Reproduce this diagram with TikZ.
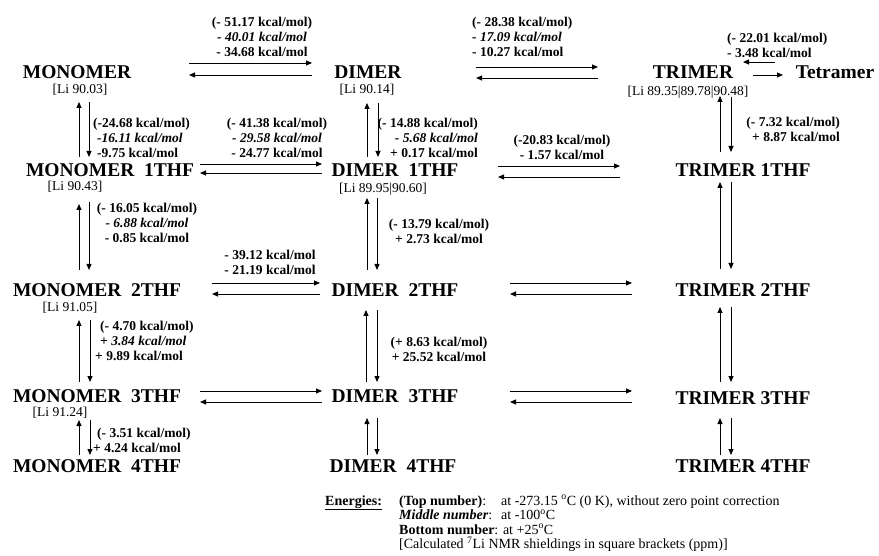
\documentclass[tikz,border=0pt]{standalone}
\usepackage{fontspec}
\setmainfont{Liberation Serif}
\usetikzlibrary{calc, arrows.meta}

\begin{document}
\begin{tikzpicture}[x=1pt, y=-1pt,
  species/.style={font=\fontsize{19.5}{22}\selectfont\bfseries, inner sep=0pt},
  shield/.style={font=\fontsize{13.5}{15}\selectfont, inner sep=0pt},
  dE/.style={font=\fontsize{13.5}{15}\selectfont\bfseries, inner sep=0pt, align=center},
  legend/.style={font=\fontsize{14}{15}\selectfont, inner sep=0pt, anchor=base west},
  eq/.style={-{Triangle[length=6pt,width=5pt]}, line width=0.9pt}]
\useasboundingbox (0,0) rectangle (879,556);

% species
\node (m0) [species] at (77,72) {MONOMER};
\node (m1) [species] at (110,170) {MONOMER\hspace{0.5em}1THF};
\node (m2) [species] at (97,290) {MONOMER\hspace{0.5em}2THF};
\node (m3) [species] at (97,396) {MONOMER\hspace{0.5em}3THF};
\node (m4) [species] at (97,466) {MONOMER\hspace{0.5em}4THF};
\node (d0) [species] at (368,72) {DIMER};
\node (d1) [species] at (395,170) {DIMER\hspace{0.5em}1THF};
\node (d2) [species] at (395,290) {DIMER\hspace{0.5em}2THF};
\node (d3) [species] at (395,396) {DIMER\hspace{0.5em}3THF};
\node (d4) [species] at (393,466) {DIMER\hspace{0.5em}4THF};
\node (t0) [species] at (693,72) {TRIMER};
\node (tt) [species] at (835,72) {Tetramer};
\node (t1) [species] at (743,170) {TRIMER 1THF};
\node (t2) [species] at (743,290) {TRIMER 2THF};
\node (t3) [species] at (743,398) {TRIMER 3THF};
\node (t4) [species] at (743,466) {TRIMER 4THF};

% Li shieldings
\node (m0li) [shield] at (80,90) {[Li 90.03]};
\node (d0li) [shield] at (367,90) {[Li 90.14]};
\node (t0li) [shield] at (688,92) {[Li 89.35|89.78|90.48]};
\node (m1li) [shield] at (75,187) {[Li 90.43]};
\node (d1li) [shield] at (383,189) {[Li 89.95|90.60]};
\node (m2li) [shield] at (70,308) {[Li 91.05]};
\node (m3li) [shield] at (60,413) {[Li 91.24]};

% energies
\node (e1) [dE] at (262,37) {(- 51.17 kcal/mol)\\\textit{- 40.01 kcal/mol}\\- 34.68 kcal/mol};
\node (e2) [dE, align=left, anchor=west] at (472,37) {(- 28.38 kcal/mol)\\\textit{- 17.09 kcal/mol}\\- 10.27 kcal/mol};
\node (e3) [dE, align=left, anchor=west] at (727,45.5) {(- 22.01 kcal/mol)\\- 3.48 kcal/mol};
\node (e4) [dE, align=left, anchor=west] at (93,138) {(-24.68 kcal/mol)\\\hspace*{4pt}\textit{-16.11 kcal/mol}\\\hspace*{4pt}-9.75 kcal/mol};
\node (e5) [dE] at (277,138) {(- 41.38 kcal/mol)\\\textit{- 29.58 kcal/mol}\\- 24.77 kcal/mol};
\node (e6) [dE, align=right, anchor=east] at (478,138) {(- 14.88 kcal/mol)\\\textit{- 5.68 kcal/mol}\\+ 0.17 kcal/mol};
\node (e7) [dE] at (562,147) {(-20.83 kcal/mol)\\- 1.57 kcal/mol};
\node (e8) [dE, align=right, anchor=east] at (840,129.5) {(- 7.32 kcal/mol)\\+ 8.87 kcal/mol};
\node (e9) [dE] at (147,223) {(- 16.05 kcal/mol)\\\textit{- 6.88 kcal/mol}\\- 0.85 kcal/mol};
\node (e10) [dE] at (439,231) {(- 13.79 kcal/mol)\\+ 2.73 kcal/mol};
\node (e11) [dE] at (270,262) {- 39.12 kcal/mol\\- 21.19 kcal/mol};
\node (e12) [dE, align=left, anchor=west] at (95,341) {\hspace*{5pt}(- 4.70 kcal/mol)\\\hspace*{5pt}\textit{+ 3.84 kcal/mol}\\+ 9.89 kcal/mol};
\node (e13) [dE] at (439,349.5) {(+ 8.63 kcal/mol)\\+ 25.52 kcal/mol};
\node (e14) [dE, align=left, anchor=west] at (93,440) {\hspace*{4pt}(- 3.51 kcal/mol)\\+ 4.24 kcal/mol};

% horizontal equilibria
\draw [eq] ($(m0)+(112,-9)$) -- ($(d0)+(-56,-9)$);
\draw [eq] ($(d0)+(-56,3)$) -- ($(m0)+(112,3)$);
\draw [eq] ($(d0)+(108,-5)$) -- ($(t0)+(-95,-5)$);
\draw [eq] ($(t0)+(-95,6)$) -- ($(d0)+(108,6)$);
\draw [eq] ($(tt)+(-60,-10)$) -- ($(t0)+(50,-10)$);
\draw [eq] ($(t0)+(60,3)$) -- ($(tt)+(-52,3)$);
\draw [eq] ($(m1)+(90,-6)$) -- ($(d1)+(-73,-6)$);
\draw [eq] ($(d1)+(-73,3)$) -- ($(m1)+(90,3)$);
\draw [eq] ($(d1)+(103,-4)$) -- ($(t1)+(-123,-4)$);
\draw [eq] ($(t1)+(-123,7)$) -- ($(d1)+(103,7)$);
\draw [eq] ($(m2)+(115,-7)$) -- ($(d2)+(-75,-7)$);
\draw [eq] ($(d2)+(-75,4)$) -- ($(m2)+(115,4)$);
\draw [eq] ($(d2)+(115,-7)$) -- ($(t2)+(-111,-7)$);
\draw [eq] ($(t2)+(-111,4)$) -- ($(d2)+(115,4)$);
\draw [eq] ($(m3)+(103,-5)$) -- ($(d3)+(-73,-5)$);
\draw [eq] ($(d3)+(-73,6)$) -- ($(m3)+(103,6)$);
\draw [eq] ($(d3)+(115,-5)$) -- ($(t3)+(-111,-7)$);
\draw [eq] ($(t3)+(-111,4)$) -- ($(d3)+(115,6)$);

% vertical equilibria
\draw [eq] ($(m1)+(-31,-13)$) -- ($(m0li)+(-1,12)$);
\draw [eq] ($(m0li)+(9,12)$) -- ($(m1)+(-21,-13)$);
\draw [eq] ($(m2)+(-18,-20)$) -- ($(m1li)+(4,17)$);
\draw [eq] ($(m1li)+(14,15)$) -- ($(m2)+(-8,-20)$);
\draw [eq] ($(m3)+(-18,-14)$) -- ($(m2li)+(9,12)$);
\draw [eq] ($(m2li)+(20,12)$) -- ($(m3)+(-7,-14)$);
\draw [eq] ($(m4)+(-18,-11)$) -- ($(m3li)+(19,7)$);
\draw [eq] ($(m3li)+(30,7)$) -- ($(m4)+(-7,-11)$);
\draw [eq] ($(d1)+(-28,-13)$) -- ($(d0li)+(0,13)$);
\draw [eq] ($(d0li)+(11,13)$) -- ($(d1)+(-17,-13)$);
\draw [eq] ($(d2)+(-28,-20)$) -- ($(d1li)+(-16,9)$);
\draw [eq] ($(d1li)+(-6,9)$) -- ($(d2)+(-18,-20)$);
\draw [eq] ($(d3)+(-29,-14)$) -- ($(d2)+(-29,20)$);
\draw [eq] ($(d2)+(-18,20)$) -- ($(d3)+(-18,-14)$);
\draw [eq] ($(d4)+(-26,-11)$) -- ($(d3)+(-28,22)$);
\draw [eq] ($(d3)+(-18,22)$) -- ($(d4)+(-16,-11)$);
\draw [eq] ($(t1)+(-23,-18)$) -- ($(t0li)+(32,4)$);
\draw [eq] ($(t0li)+(43,5)$) -- ($(t1)+(-12,-18)$);
\draw [eq] ($(t2)+(-23,-21)$) -- ($(t1)+(-23,12)$);
\draw [eq] ($(t1)+(-12,12)$) -- ($(t2)+(-12,-21)$);
\draw [eq] ($(t3)+(-23,-16)$) -- ($(t2)+(-23,17)$);
\draw [eq] ($(t2)+(-12,17)$) -- ($(t3)+(-12,-16)$);
\draw [eq] ($(t4)+(-23,-11)$) -- ($(t3)+(-23,20)$);
\draw [eq] ($(t3)+(-12,20)$) -- ($(t4)+(-12,-11)$);

% key
\node (keyhead) [legend] at (325,505) {\underline{\textbf{Energies:}}};
\node (key1) [legend] at (399,505) {\makebox[102pt][l]{\textbf{(Top number)}:}at -273.15 \textsuperscript{o}C (0 K), without zero point correction};
\node (key2) [legend] at (399,519.5) {\makebox[102pt][l]{\textbf{\textit{Middle number}}:}at -100\textsuperscript{o}C};
\node (key3) [legend] at (399,534) {\textbf{Bottom number}: at +25\textsuperscript{o}C};
\node (key4) [legend] at (399,548.5) {[Calculated \textsuperscript{7}Li NMR shieldings in square brackets (ppm)]};
\end{tikzpicture}
\end{document}
